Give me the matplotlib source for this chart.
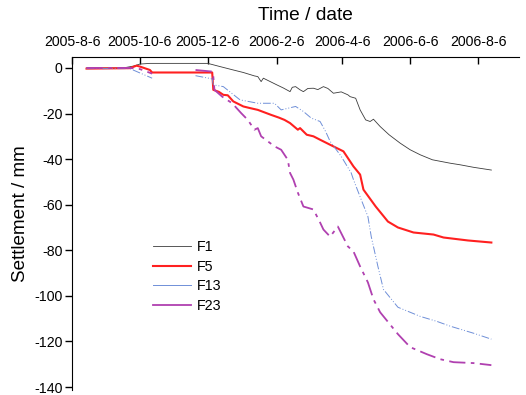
import matplotlib
matplotlib.use("Agg")
import matplotlib.pyplot as plt
import numpy as np
import pandas as pd

plt.rcParams['font.family'] = ['Liberation Sans', 'DejaVu Sans']
plt.rcParams['axes.unicode_minus'] = False

# settlement readings (mm)
f1_dates = ['2005-08-19', '2005-09-21', '2005-09-30', '2005-10-06', '2005-10-15', '2005-12-06',
            '2005-12-10', '2005-12-17', '2005-12-29', '2006-01-07', '2006-01-17', '2006-01-20',
            '2006-01-23', '2006-01-25', '2006-02-06', '2006-02-12', '2006-02-18', '2006-02-20',
            '2006-02-23', '2006-02-27', '2006-03-02', '2006-03-06', '2006-03-11', '2006-03-15',
            '2006-03-20', '2006-03-24', '2006-03-29', '2006-04-05', '2006-04-11', '2006-04-13',
            '2006-04-18', '2006-04-22', '2006-04-27', '2006-05-01', '2006-05-04', '2006-05-10',
            '2006-05-18', '2006-05-28', '2006-06-06', '2006-06-15', '2006-06-26', '2006-07-12',
            '2006-07-21', '2006-08-02', '2006-08-18']
f1_vals = [0.0, 0.0, 0.8, 1.7, 2.0, 2.0,
           1.5, 0.6, -0.9, -2.0, -3.5, -3.8,
           -6.0, -4.5, -7.4, -8.8, -10.4, -8.5,
           -8.2, -9.6, -10.4, -9.0, -8.9, -9.5,
           -8.2, -9.0, -11.1, -10.5, -11.8, -12.6,
           -13.3, -18.4, -22.8, -23.5, -22.5, -25.7,
           -29.3, -33.0, -35.9, -38.1, -40.3, -41.8,
           -42.5, -43.6, -44.8]

f5_dates = ['2005-08-19', '2005-09-27', '2005-10-03', '2005-10-06', '2005-10-15', '2005-10-17',
            '2005-12-10', '2005-12-11', '2005-12-16', '2005-12-20', '2005-12-24', '2005-12-29',
            '2006-01-07', '2006-01-12', '2006-01-20', '2006-02-01', '2006-02-08', '2006-02-13',
            '2006-02-18', '2006-02-25', '2006-02-27', '2006-03-05', '2006-03-11', '2006-03-17',
            '2006-03-26', '2006-04-07', '2006-04-16', '2006-04-22', '2006-04-25', '2006-05-06',
            '2006-05-17', '2006-05-26', '2006-06-09', '2006-06-27', '2006-07-06', '2006-07-28',
            '2006-08-18']
f5_vals = [-0.3, -0.1, 1.0, 0.6, -0.9, -2.0,
           -2.0, -9.6, -10.5, -11.8, -12.0, -14.7,
           -16.9, -17.5, -18.4, -20.6, -21.8, -22.8,
           -24.2, -27.1, -26.4, -29.3, -30.0, -31.5,
           -33.7, -36.6, -43.2, -46.8, -53.4, -60.8,
           -67.4, -70.0, -72.2, -73.1, -74.4, -75.7,
           -76.6]

f13_dates = ['2005-08-19', '2005-09-27', '2005-10-17', '2005-11-01',
             '2005-11-25', '2005-12-10', '2005-12-11', '2005-12-20', '2006-01-04', '2006-01-20',
             '2006-02-04', '2006-02-10', '2006-02-23', '2006-03-02', '2006-03-09', '2006-03-17',
             '2006-03-22', '2006-03-26', '2006-04-05', '2006-04-14', '2006-04-16', '2006-04-23',
             '2006-04-29', '2006-05-02', '2006-05-08', '2006-05-13', '2006-05-26', '2006-06-15',
             '2006-06-30', '2006-07-12', '2006-08-02', '2006-08-18']
f13_vals = [-0.3, -0.3, -4.5, np.nan,
            -3.4, -4.8, -7.4, -8.2, -14.0, -15.5,
            -15.5, -18.4, -16.9, -19.1, -22.0, -23.5,
            -27.9, -32.2, -38.8, -46.1, -49.0, -57.8,
            -65.2, -74.0, -87.1, -97.2, -105.0, -109.0,
            -111.2, -113.3, -116.4, -119.0]

f23_dates = ['2005-08-19', '2005-09-27', '2005-10-06', '2005-10-17', '2005-11-01',
             '2005-11-25', '2005-12-10', '2005-12-11', '2005-12-12', '2005-12-19', '2005-12-28',
             '2006-01-05', '2006-01-11', '2006-01-17', '2006-01-20', '2006-01-23', '2006-02-04',
             '2006-02-10', '2006-02-16', '2006-02-18', '2006-02-21', '2006-02-25', '2006-03-02',
             '2006-03-11', '2006-03-17', '2006-03-20', '2006-03-26', '2006-04-02', '2006-04-11',
             '2006-04-16', '2006-04-22', '2006-04-29', '2006-05-04', '2006-05-10', '2006-05-26',
             '2006-06-06', '2006-06-21', '2006-07-03', '2006-07-15', '2006-08-02', '2006-08-18']
f23_vals = [0.0, 0.0, -0.5, -2.5, np.nan,
            -0.9, -1.6, -3.8, -9.6, -12.6, -15.5,
            -19.8, -22.8, -27.1, -26.4, -30.0, -34.4,
            -35.9, -40.3, -46.1, -49.0, -54.7, -60.8,
            -62.1, -67.8, -70.9, -74.0, -69.6, -78.3,
            -80.5, -87.1, -94.1, -101.5, -107.2, -116.8,
            -122.5, -125.6, -127.8, -129.1, -129.5, -130.4]

tick_dates = ['2005-08-06', '2005-10-06', '2005-12-06', '2006-02-06',
              '2006-04-06', '2006-06-06', '2006-08-06']
tick_labels = ['2005-8-6', '2005-10-6', '2005-12-6', '2006-2-6',
               '2006-4-6', '2006-6-6', '2006-8-6']

fig = plt.figure(figsize=(5.26, 3.95), dpi=100)
ax = fig.add_axes([0.137, 0.0127, 0.850, 0.843])

ax.plot(pd.to_datetime(f1_dates), f1_vals, color='#3c3c3c', lw=0.6, label='F1')
ax.plot(pd.to_datetime(f5_dates), f5_vals, color='#ff2020', lw=1.5, label='F5')
ax.plot(pd.to_datetime(f13_dates), f13_vals, color='#6f8fd8', lw=0.7,
        dashes=(8, 2, 1, 2, 1, 2), label='F13')
ax.plot(pd.to_datetime(f23_dates), f23_vals, color='#b040b0', lw=1.3,
        dashes=(9, 3, 2, 3), label='F23')

ax.set_xlim(pd.Timestamp('2005-08-06'), pd.Timestamp('2006-09-12'))
ax.set_ylim(-141.3, 4.8)
ax.set_xticks(pd.to_datetime(tick_dates))
ax.set_xticklabels(tick_labels)
ax.set_yticks(np.arange(-140, 1, 20))
ax.xaxis.tick_top()
ax.xaxis.set_label_position('top')
ax.spines['bottom'].set_visible(False)
ax.spines['right'].set_visible(False)
ax.tick_params(axis='x', direction='in', length=5, width=1, labelsize=10.2, pad=6)
ax.tick_params(axis='y', direction='out', length=5, width=1, labelsize=10.2, pad=2)
ax.set_xlabel('Time / date', fontsize=13.8)
ax.xaxis.set_label_coords(0.521, 1.11)
ax.set_ylabel('Settlement / mm', fontsize=13.6)
ax.yaxis.set_label_coords(-0.097, 0.53)

leg = ax.legend(loc='upper left', bbox_to_anchor=(0.152, 0.488), frameon=False,
                fontsize=10.3, handlelength=2.65, labelspacing=0.38, handletextpad=0.45)
for h in leg.get_lines():
    h.set_linestyle('-')

fig.savefig('out.png', dpi=100)
